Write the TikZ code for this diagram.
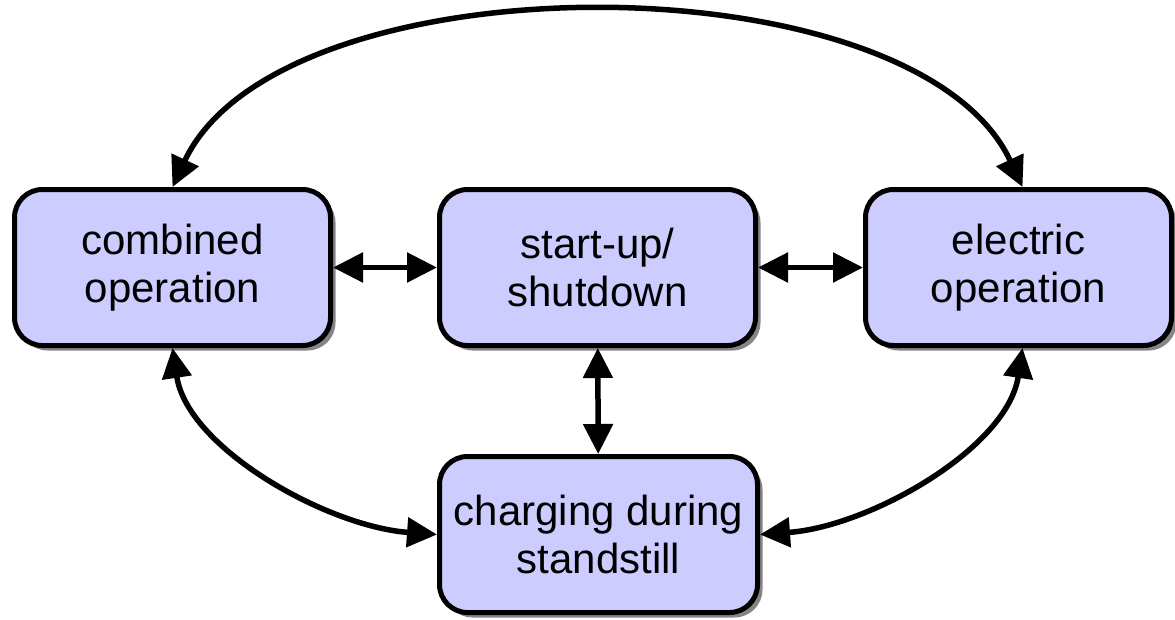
\documentclass[tikz,border=0pt]{standalone}
\usepackage{fontspec}
\setmainfont{Liberation Sans}
\usetikzlibrary{arrows.meta,shadows}
\definecolor{boxfill}{HTML}{CCCCFF}
\tikzset{
  state/.style={draw=black, line width=5pt, fill=boxfill, rounded corners=28pt,
    minimum height=156pt, align=center, font=\fontsize{42}{48}\selectfont,
    drop shadow={shadow xshift=5pt, shadow yshift=-5pt, fill=black!48, opacity=1}},
  link/.style={line width=5.5pt, {Triangle[length=30pt,width=29pt]}-{Triangle[length=30pt,width=29pt]}},
}
\begin{document}
\begin{tikzpicture}[x=1pt,y=-1pt]
\useasboundingbox (0,0) rectangle (1175,619);
\node[state, minimum width=316pt] (L) at (172.5,267.5) {combined\\operation};
\node[state, minimum width=316pt] (M) at (597.5,267.5) {start-up/\\shutdown};
\node[state, minimum width=306pt] (R) at (1018.5,267.5) {electric\\operation};
\node[state, minimum width=318pt] (B) at (598.5,534.5) {charging during\\standstill};
\draw[link] (L) -- (M);
\draw[link] (M) -- (R);
\draw[link] (M) -- (B);
\draw[link] (L.north) .. controls +(108,-231) and +(-108,-231) .. ([xshift=4pt]R.north);
\draw[link] (L.south) .. controls +(15,100) and +(-110,-8) .. (B.west);
\draw[link] ([xshift=4pt]R.south) .. controls +(-15,100) and +(110,-8) .. (B.east);
\end{tikzpicture}
\end{document}
